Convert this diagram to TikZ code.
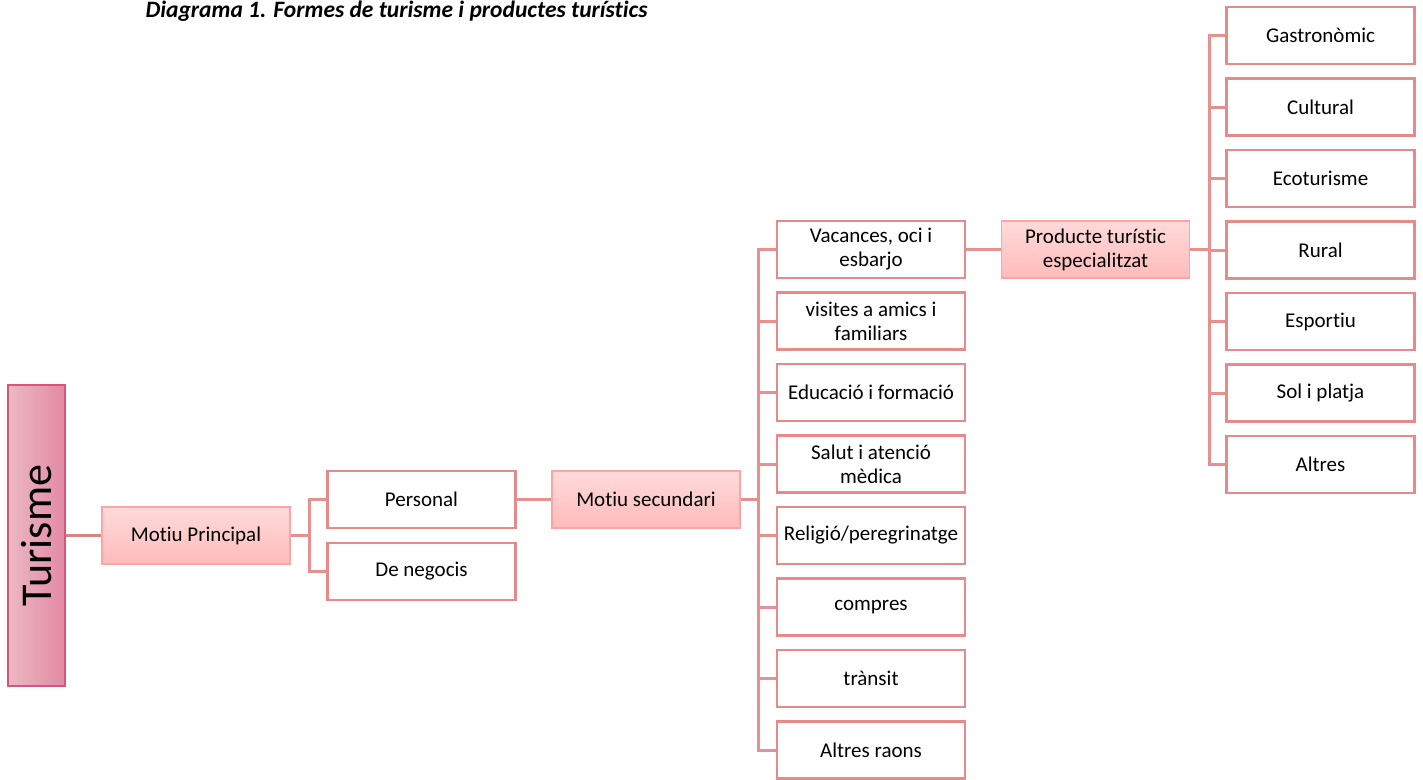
\documentclass[tikz,border=0pt]{standalone}
\usepackage{fontspec}
\setmainfont{Carlito}[Ligatures={NoCommon,NoRare}]
\definecolor{linec}{HTML}{E8908F}
\definecolor{linedark}{HTML}{D98484}
\definecolor{boxline}{HTML}{E88A8A}
\definecolor{pinktop}{HTML}{FFDADA}
\definecolor{pinkbot}{HTML}{FFBBBB}
\definecolor{pinkline}{HTML}{FFA3A3}
\definecolor{turL}{HTML}{ECB8C4}
\definecolor{turR}{HTML}{E28AA3}
\definecolor{turline}{HTML}{D6557F}
\tikzset{
  box/.style={draw=boxline, line width=2.5pt, fill=white, minimum width=188pt, minimum height=57pt, inner sep=0pt, align=center, font=\fontsize{21}{24}\selectfont},
  hbox/.style={box, draw=pinkline, line width=1.5pt, top color=pinktop, bottom color=pinkbot},
  conn/.style={draw=linec, line width=3pt},
}
\begin{document}
\begin{tikzpicture}[x=1pt,y=-1pt]
\useasboundingbox (0,0) rectangle (1423,779);
\node[anchor=base west, font=\fontsize{23.5}{26}\selectfont\bfseries\itshape] (title) at (142,17) {Diagrama 1. Formes de turisme i productes turístics};

\node[draw=turline, line width=1.5pt, left color=turL, right color=turR, minimum width=57pt, minimum height=301pt, inner sep=0pt] (tur) at (36.5,535.5) {};
\node[rotate=90, font=\fontsize{44}{48}\selectfont] (turt) at (tur.center) {Turisme};

\node[hbox] (mp) at (196,535.5) {Motiu Principal};
\node[box] (pers) at (421.5,499.5) {Personal};
\node[box] (neg) at (421.5,571.5) {De negocis};
\node[hbox] (ms) at (646,499.5) {Motiu secundari};

\node[box] (l1) at (871,249.5) {Vacances, oci i\\esbarjo};
\node[box] (l2) at (871,321) {visites a amics i\\familiars};
\node[box] (l3) at (871,392.5) {Educació i formació};
\node[box] (l4) at (871,464) {Salut i atenció\\mèdica};
\node[box] (l5) at (871,535.5) {Religió/peregrinatge};
\node[box] (l6) at (871,607) {compres};
\node[box] (l7) at (871,678.5) {trànsit};
\node[box] (l8) at (871,750) {Altres raons};

\node[hbox] (prod) at (1095.5,249.5) {Producte turístic\\especialitzat};

\node[box] (r1) at (1320.5,35.5) {Gastronòmic};
\node[box] (r2) at (1320.5,107) {Cultural};
\node[box] (r3) at (1320.5,178.5) {Ecoturisme};
\node[box] (r4) at (1320.5,250) {Rural};
\node[box] (r5) at (1320.5,321.5) {Esportiu};
\node[box] (r6) at (1320.5,393) {Sol i platja};
\node[box] (r7) at (1320.5,464.5) {Altres};

\draw[conn, draw=linedark] (tur.east) -- (mp.west);
\foreach \c in {pers,neg} \draw[conn] (mp.east) -- ++(19,0) |- (\c.west);
\draw[conn] (pers.east) -- (ms.west);
\foreach \c in {l1,l2,l3,l4,l5,l6,l7,l8} \draw[conn] (ms.east) -- ++(18,0) |- (\c.west);
\draw[conn] (l1.east) -- (prod.west);
\foreach \c in {r1,r2,r3,r4,r5,r6,r7} \draw[conn] (prod.east) -- ++(19,0) |- (\c.west);
\end{tikzpicture}
\end{document}
